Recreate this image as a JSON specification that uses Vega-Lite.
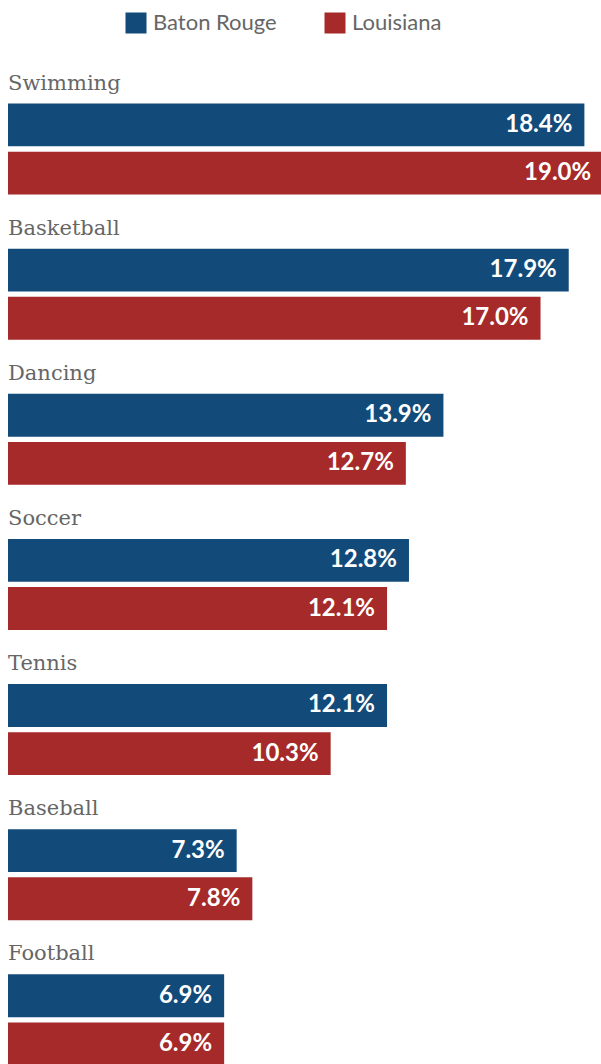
{
  "$schema": "https://vega.github.io/schema/vega-lite/v6.json",
  "width": 593,
  "height": 1016,
  "autosize": {"type": "none"},
  "padding": {"left": 8, "top": 48, "right": 0, "bottom": 0},
  "background": "white",
  "config": {"view": {"stroke": null}},
  "data": {"values": [
    {"sport": "Swimming", "series": "Baton Rouge", "value": 18.4},
    {"sport": "Swimming", "series": "Louisiana", "value": 19.0},
    {"sport": "Basketball", "series": "Baton Rouge", "value": 17.9},
    {"sport": "Basketball", "series": "Louisiana", "value": 17.0},
    {"sport": "Dancing", "series": "Baton Rouge", "value": 13.9},
    {"sport": "Dancing", "series": "Louisiana", "value": 12.7},
    {"sport": "Soccer", "series": "Baton Rouge", "value": 12.8},
    {"sport": "Soccer", "series": "Louisiana", "value": 12.1},
    {"sport": "Tennis", "series": "Baton Rouge", "value": 12.1},
    {"sport": "Tennis", "series": "Louisiana", "value": 10.3},
    {"sport": "Baseball", "series": "Baton Rouge", "value": 7.3},
    {"sport": "Baseball", "series": "Louisiana", "value": 7.8},
    {"sport": "Football", "series": "Baton Rouge", "value": 6.9},
    {"sport": "Football", "series": "Louisiana", "value": 6.9}
  ]},
  "encoding": {
    "y": {"field": "sport", "type": "nominal", "sort": null, "axis": null,
          "scale": {"paddingInner": 0, "paddingOuter": 0}}
  },
  "layer": [
    {
      "mark": {"type": "bar"},
      "encoding": {
        "x": {"field": "value", "type": "quantitative", "axis": null, "scale": {"domain": [0, 18.93], "nice": false, "zero": true}},
        "yOffset": {"field": "series", "type": "nominal", "sort": null,
                    "scale": {"range": [55.5, 146.5], "paddingInner": 0.11, "paddingOuter": 0}},
        "color": {"field": "series", "type": "nominal", "sort": null, "title": null,
                  "scale": {"domain": ["Baton Rouge", "Louisiana"], "range": ["#124b7a", "#a52a29"]},
                  "legend": {"orient": "none", "legendX": 117, "legendY": -36, "direction": "horizontal",
                             "symbolType": "square", "symbolSize": 441, "symbolStrokeWidth": 0, "symbolOpacity": 1,
                             "labelFont": "Lato", "labelFontSize": 22, "labelColor": "#666666", "labelOffset": 6,
                             "columnPadding": 47, "labelLimit": 300}}
      }
    },
    {
      "transform": [{"calculate": "format(datum.value, '.1f') + '%'", "as": "label"}],
      "mark": {"type": "text", "align": "right", "baseline": "middle", "dx": -12, "font": "Lato", "fontWeight": "bold", "fontSize": 24, "color": "white"},
      "encoding": {
        "x": {"field": "value", "type": "quantitative"},
        "yOffset": {"field": "series", "type": "nominal", "sort": null},
        "text": {"field": "label", "type": "nominal"}
      }
    },
    {
      "transform": [{"filter": "datum.series === 'Baton Rouge'"}],
      "mark": {"type": "text", "align": "left", "baseline": "alphabetic", "dy": 41.5, "font": "DejaVu Serif", "fontSize": 21, "color": "#666666"},
      "encoding": {
        "x": {"datum": 0, "type": "quantitative"},
        "y": {"field": "sport", "type": "nominal", "sort": null, "bandPosition": 0},
        "text": {"field": "sport", "type": "nominal"}
      }
    }
  ]
}
